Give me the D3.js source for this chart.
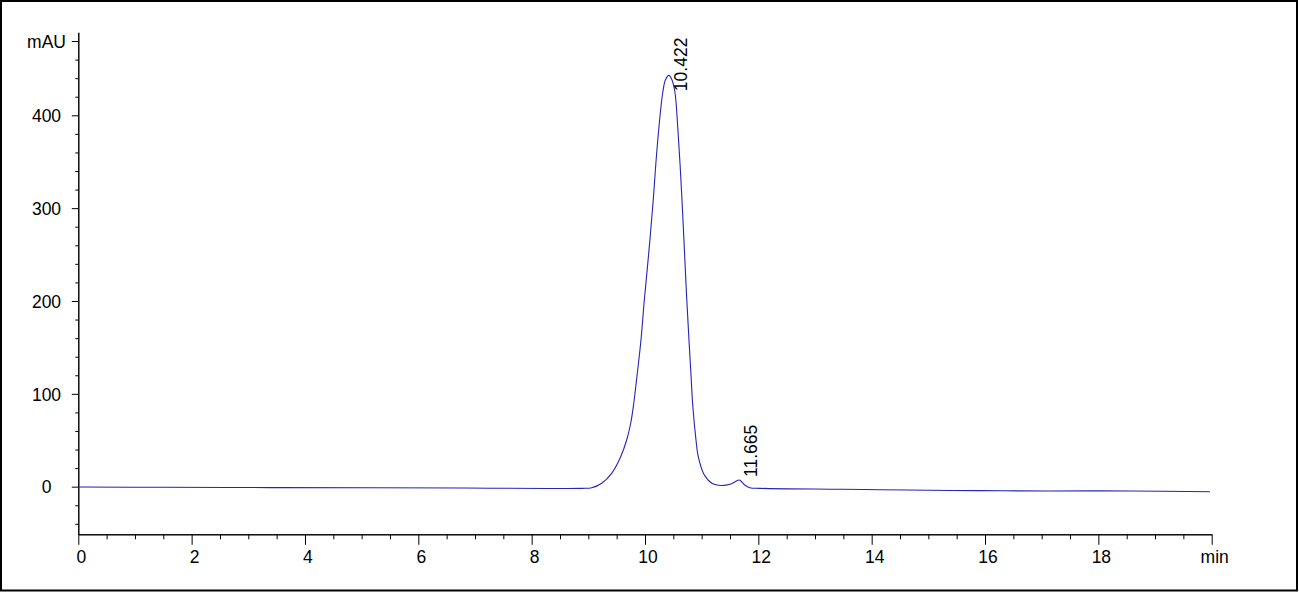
<!DOCTYPE html>
<html>
<head>
<meta charset="utf-8">
<script src="https://cdn.jsdelivr.net/npm/d3@7"></script>
<style>
  html, body { margin: 0; padding: 0; background: #fff; }
  svg { display: block; }
  text { font-family: "Liberation Sans", Arial, sans-serif; fill: #000; }
</style>
</head>
<body>
<svg id="chart" width="1299" height="592"></svg>
<script>
// ---- data ----
const times = [0, 1.5, 3.4, 5.2, 6.8, 8.3, 8.9, 9.06, 9.236, 9.412, 9.571, 9.677, 9.748, 9.794, 9.864, 9.929, 9.988, 10.071, 10.146, 10.194, 10.247, 10.312, 10.36, 10.42, 10.477, 10.53, 10.577, 10.618, 10.658, 10.693, 10.736, 10.776, 10.812, 10.842, 10.9, 10.94, 11.04, 11.18, 11.3, 11.5, 11.59, 11.665, 11.76, 11.85, 12.03, 13.49, 14.64, 15.88, 17.1, 18.56, 19.97];
const signal = [-0.3, -0.7, -1.0, -1.1, -1.5, -1.9, -1.8, -1.2, 3.7, 14.4, 32.3, 50.3, 68.3, 86.2, 122.1, 158, 201, 255, 309, 350, 388, 424, 438, 443, 438, 424, 388, 348, 302, 258, 203, 158, 120, 88, 50.3, 32.3, 13.4, 3.7, 1.5, 2.6, 5.4, 7.2, 1.8, -1.1, -1.8, -2.8, -3.6, -4.3, -4.6, -4.6, -5.4];
const peakTimes = [10.422, 11.665];
const peakLabels = ["10.422", "11.665"];
const peakLabelLevel = [426, 10.4];
const xMajorTicks = [0, 2, 4, 6, 8, 10, 12, 14, 16, 18, 20];
const xMajorLabels = ["0", "2", "4", "6", "8", "10", "12", "14", "16", "18", "min"];
const xMinorTicks = d3.range(0.5, 20, 0.5).filter(v => v % 2 !== 0);
const yMajorTicks = [0, 100, 200, 300, 400, 480];
const yMajorLabels = ["0", "100", "200", "300", "400", "mAU"];
const yMinorTicks = [-40, -20, 20, 40, 60, 80, 120, 140, 160, 180, 220, 240, 260, 280, 320, 340, 360, 380, 420, 440, 460];

// ---- drawing ----
const svg = d3.select("#chart");
svg.append("rect").attr("x", 1).attr("y", 1).attr("width", 1296).attr("height", 589.5)
  .attr("fill", "none").attr("stroke", "#000").attr("stroke-width", 2);

const x = d3.scaleLinear().domain([0, 20]).range([78.3, 1211.7]);
const y = d3.scaleLinear().domain([-51.3, 489.4]).range([534.3, 32.3]);

// x axis
const gx = svg.append("g").attr("transform", `translate(0,${y(-51.3)})`);
gx.call(d3.axisBottom(x).tickValues(xMinorTicks).tickSize(5).tickSizeOuter(0).tickFormat(""));
gx.call(g => g.selectAll(".tick text").remove());
const gx2 = svg.append("g").attr("transform", `translate(0,${y(-51.3)})`);
gx2.call(d3.axisBottom(x).tickValues(xMajorTicks).tickSize(10.5).tickSizeOuter(0)
  .tickFormat((d, i) => xMajorLabels[i]));
[gx, gx2].forEach(g => {
  g.selectAll("path.domain").attr("stroke", "#000").attr("stroke-width", 1);
  g.selectAll(".tick line").attr("stroke", "#000");
});
gx2.selectAll(".tick text").attr("font-size", 17.5).attr("font-family", "Liberation Sans, Arial, sans-serif")
  .attr("fill", "#000").attr("y", 16).attr("dy", "0.71em").attr("dx", 2.5);

// y axis
const gy = svg.append("g").attr("transform", `translate(${x(0)},0)`);
gy.call(d3.axisLeft(y).tickValues(yMinorTicks).tickSize(3).tickSizeOuter(0).tickFormat(""));
gy.call(g => g.selectAll(".tick text").remove());
const gy2 = svg.append("g").attr("transform", `translate(${x(0)},0)`);
gy2.call(d3.axisLeft(y).tickValues(yMajorTicks).tickSize(6.5).tickSizeOuter(0)
  .tickFormat((d, i) => yMajorLabels[i]));
[gy, gy2].forEach(g => {
  g.selectAll("path.domain").attr("stroke", "#000").attr("stroke-width", 1);
  g.selectAll(".tick line").attr("stroke", "#000");
});
gy2.selectAll(".tick text").attr("font-size", 17.5).attr("font-family", "Liberation Sans, Arial, sans-serif")
  .attr("fill", "#000").attr("text-anchor", "middle").attr("x", -31.8).attr("dy", "0.36em");

// signal trace
const pts = times.map((t, i) => [t, signal[i]]);
const line = d3.line().x(d => x(d[0])).y(d => y(d[1])).curve(d3.curveCatmullRom.alpha(0.5));
svg.append("path").datum(pts).attr("d", line)
  .attr("fill", "none").attr("stroke", "#2424b8").attr("stroke-width", 1.1);

// peak labels
svg.selectAll("text.peak").data(peakTimes).enter().append("text")
  .attr("class", "peak")
  .attr("transform", (d, i) => `translate(${x(d) + 18},${y(peakLabelLevel[i])}) rotate(-90)`)
  .attr("font-size", 17.5)
  .attr("text-anchor", "start")
  .text((d, i) => peakLabels[i]);
</script>
</body>
</html>
